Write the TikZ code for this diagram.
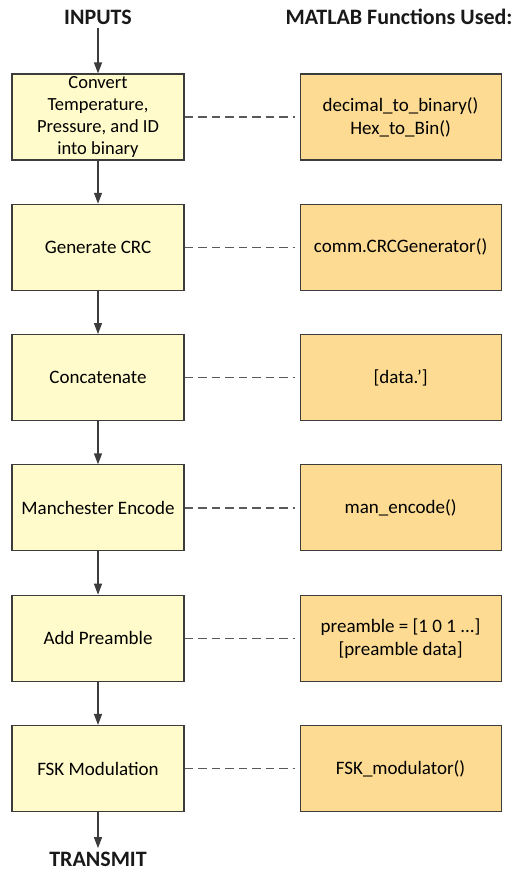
\documentclass[tikz,border=0pt]{standalone}
\usepackage{fontspec}
\setmainfont{Carlito}
\usetikzlibrary{arrows.meta, positioning}

\definecolor{stepfill}{HTML}{FFFBCA}
\definecolor{funcfill}{HTML}{FDDB92}
\definecolor{edgegray}{HTML}{3C3C3C}

\begin{document}
\begin{tikzpicture}[x=1pt, y=1pt, >={Triangle[length=11pt, width=8pt]},
    stepbox/.style={draw=edgegray, line width=1.1pt, fill=stepfill, minimum width=172pt, minimum height=86pt,
        align=center, inner sep=0pt, font=\fontsize{19}{22}\selectfont},
    funcbox/.style={draw=edgegray, line width=1.1pt, fill=funcfill, minimum width=201pt, minimum height=86pt,
        align=center, inner sep=0pt, font=\fontsize{19}{23}\selectfont},
    heading/.style={font=\fontsize{22}{22}\selectfont\bfseries, text=black!90},
    flow/.style={->, line width=1.3pt, draw=edgegray},
    link/.style={line width=1.3pt, draw=black!65, dash pattern=on 8.5pt off 5pt},
    node distance=43.2pt]
    % page frame
    \useasboundingbox (0,0) rectangle (516,-873);

    % Processing chain (left column)
    \node[stepbox, font=\fontsize{18.5}{22}\selectfont] (convert) at (98,-117) {Convert\\Temperature,\\Pressure, and ID\\into binary};
    \node[stepbox, below=of convert] (crc) {Generate CRC};
    \node[stepbox, below=of crc] (concat) {Concatenate};
    \node[stepbox, below=of concat] (manch) {Manchester Encode};
    \node[stepbox, below=of manch] (preamble) {Add Preamble};
    \node[stepbox, below=of preamble] (fsk) {FSK Modulation};

    % MATLAB functions (right column)
    \node[funcbox, right=115pt of convert] (fconvert) {decimal\_to\_binary()\\Hex\_to\_Bin()};
    \node[funcbox, right=115pt of crc] (fcrc) {comm.CRCGenerator()};
    \node[funcbox, right=115pt of concat] (fconcat) {[data.']};
    \node[funcbox, right=115pt of manch] (fmanch) {man\_encode()};
    \node[funcbox, right=115pt of preamble] (fpreamble) {preamble = [1 0 1 ...]\\{}[preamble data]};
    \node[funcbox, right=115pt of fsk] (ffsk) {FSK\_modulator()};

    % Headings
    \node[heading] (inputs) at (98,-17) {INPUTS};
    \node[heading] (matlab) at (399,-17) {MATLAB Functions Used:};
    \node[heading] (transmit) at (98,-859) {TRANSMIT};

    % Flow arrows
    \draw[flow] (inputs) -- (convert);
    \draw[flow] (convert) -- (crc);
    \draw[flow] (crc) -- (concat);
    \draw[flow] (concat) -- (manch);
    \draw[flow] (manch) -- (preamble);
    \draw[flow] (preamble) -- (fsk);
    \draw[flow] (fsk) -- (transmit);

    % Dashed links
    \foreach \s/\f in {convert/fconvert, crc/fcrc, concat/fconcat, manch/fmanch, preamble/fpreamble, fsk/ffsk}
        \draw[link] (\s.east) -- ([xshift=-5pt]\f.west);
\end{tikzpicture}
\end{document}
